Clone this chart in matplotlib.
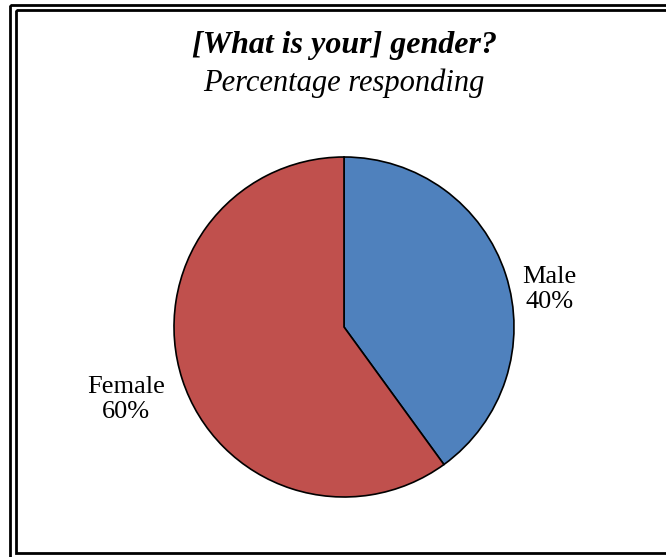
import matplotlib.pyplot as plt
from matplotlib.patches import Rectangle

# Survey result: gender of respondents
categories = ['Male', 'Female']
percentages = [40, 60]
colors = ['#4F81BD', '#C0504D']

title = '[What is your] gender?'
subtitle = 'Percentage responding'

W, H = 666, 557
plt.rcParams['font.family'] = ['Liberation Serif', 'DejaVu Serif']

fig = plt.figure(figsize=(W / 100, H / 100), dpi=100)

# Frame layer in pixel coordinates (double border)
frame = fig.add_axes([0, 0, 1, 1])
frame.set_xlim(0, W)
frame.set_ylim(H, 0)
frame.axis('off')
frame.add_patch(Rectangle((10, 4.5), 700, 600, fill=False, edgecolor='black', linewidth=2.0))
frame.add_patch(Rectangle((15.5, 10), 700, 543, fill=False, edgecolor='black', linewidth=2.0))

frame.text(344, 46, title, ha='center', va='center', fontsize=23,
           fontweight='bold', fontstyle='italic')
frame.text(344, 83, subtitle, ha='center', va='center', fontsize=22,
           fontstyle='italic')

# Pie: center (344, 327) px, radius 170 px
cx, cy, r = 344, 327, 170
ax = fig.add_axes([(cx - r) / W, (H - cy - r) / H, 2 * r / W, 2 * r / H])
wedges, _ = ax.pie(percentages, colors=colors, startangle=90, counterclock=False,
                   radius=1.0, wedgeprops=dict(edgecolor='black', linewidth=1.2))
ax.set_xlim(-1, 1)
ax.set_ylim(-1, 1)
ax.set_aspect('equal')
ax.axis('off')

label_pos = [(1.21, 0.22), (-1.28, -0.425)]
for name, val, (x, y) in zip(categories, percentages, label_pos):
    ax.text(x, y, f'{name}\n{val}%', ha='center', va='center', fontsize=19,
            linespacing=1.15, clip_on=False)

fig.savefig('out.png', dpi=100)
